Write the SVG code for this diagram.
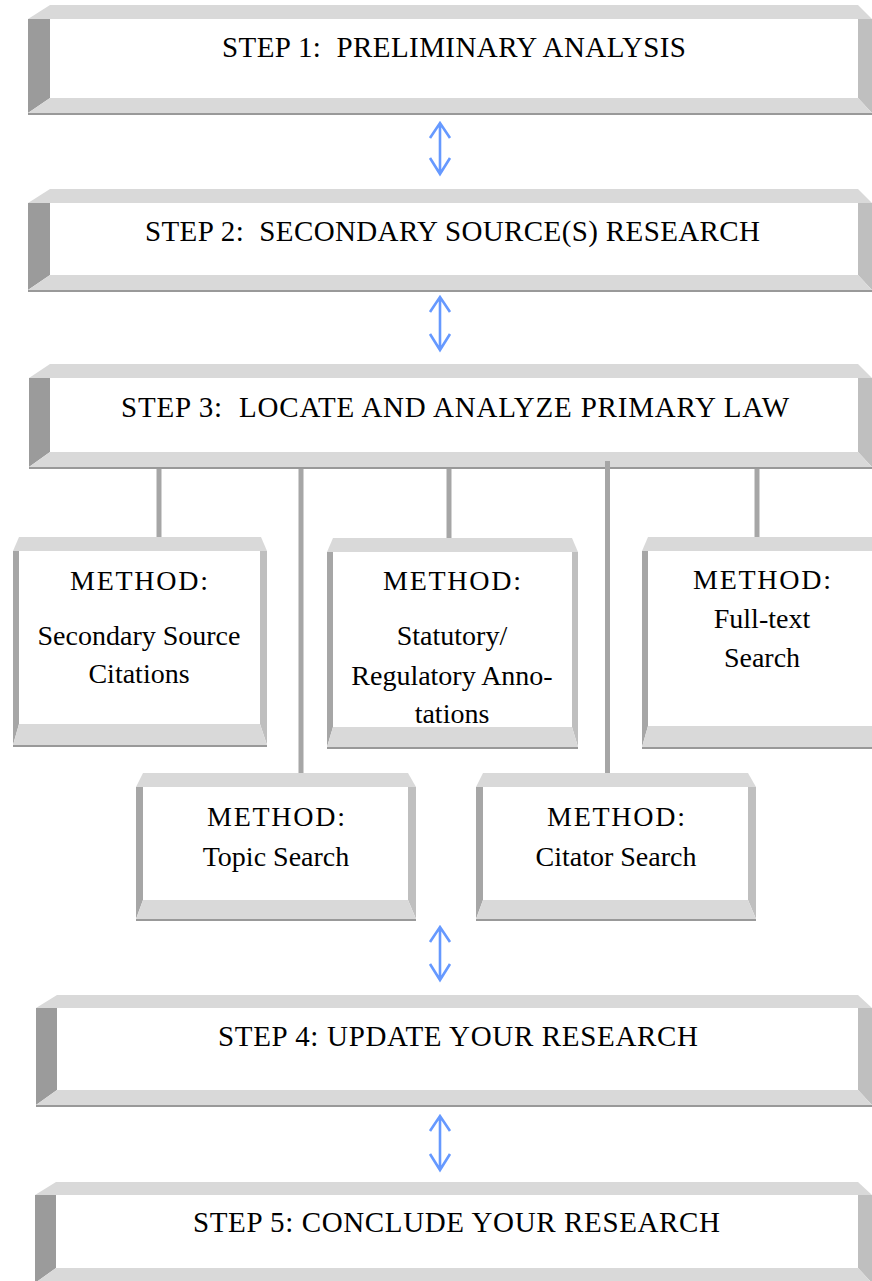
<svg xmlns="http://www.w3.org/2000/svg" width="872" height="1281" viewBox="0 0 872 1281">
<style>
.tp{fill:#d9d9d9}
.lf{fill:#9b9b9b}
.lm{fill:#a6a6a6}
.rt{fill:#bfbfbf}
.sh{fill:#999999}
.st{font-family:"Liberation Serif","Times New Roman",serif;font-size:29px;fill:#000;white-space:pre}
.mt{font-family:"Liberation Serif","Times New Roman",serif;font-size:28px;fill:#000;text-anchor:middle}
.mh{font-family:"Liberation Serif","Times New Roman",serif;font-size:28px;fill:#000}
.cn{stroke:#a6a6a6;stroke-width:5;fill:none}
.ar{stroke:#6699ff;stroke-width:2.6;fill:none;stroke-linecap:butt;stroke-linejoin:miter}
</style>
<rect width="872" height="1281" fill="#ffffff"/>

<g id="step1">
<polygon class="tp" points="50,5 858,5 872,19 28,19"/>
<polygon class="lf" points="28,19 50,19 50,98 28,113"/>
<polygon class="rt" points="858,19 872,19 872,113 858,98"/>
<polygon class="tp" points="50,98 858,98 872,113 28,113"/>
<rect class="sh" x="28" y="113" width="844" height="2"/>
<text class="st" x="222" y="57" textLength="464">STEP 1:  PRELIMINARY ANALYSIS</text>
</g>

<g id="step2">
<polygon class="tp" points="50,189 858,189 872,203 28,203"/>
<polygon class="lf" points="28,203 50,203 50,275 28,290"/>
<polygon class="rt" points="858,203 872,203 872,290 858,275"/>
<polygon class="tp" points="50,275 858,275 872,290 28,290"/>
<rect class="sh" x="28" y="290" width="844" height="2"/>
<text class="st" x="145" y="241" textLength="615">STEP 2:  SECONDARY SOURCE(S) RESEARCH</text>
</g>

<g id="step3">
<polygon class="tp" points="50,364 858,364 872,378 29,378"/>
<polygon class="lf" points="29,378 50,378 50,452 29,467"/>
<polygon class="rt" points="858,378 872,378 872,467 858,452"/>
<polygon class="tp" points="50,452 858,452 872,467 29,467"/>
<rect class="sh" x="29" y="467" width="843" height="2"/>
<text class="st" x="121" y="417" textLength="668">STEP 3:  LOCATE AND ANALYZE PRIMARY LAW</text>
</g>

<g id="method1">
<polygon class="tp" points="19,537 261,537 267,551 13,551"/>
<polygon class="lm" points="13,551 19,551 19,724 13,745"/>
<polygon class="rt" points="260,551 267,551 267,745 260,724"/>
<polygon class="tp" points="19,724 260,724 267,745 13,745"/>
<rect class="sh" x="13" y="745" width="254" height="2"/>
<text class="mh" x="70" y="590" textLength="138">METHOD:</text>
<text class="mt" x="139" y="645">Secondary Source</text>
<text class="mt" x="139" y="683">Citations</text>
</g>

<g id="method2">
<polygon class="tp" points="333,538 572,538 578,552 327,552"/>
<polygon class="lm" points="327,552 333,552 333,727 327,747"/>
<polygon class="rt" points="572,552 578,552 578,747 572,727"/>
<polygon class="tp" points="333,727 572,727 578,747 327,747"/>
<rect class="sh" x="327" y="747" width="251" height="2"/>
<text class="mh" x="383" y="590" textLength="138">METHOD:</text>
<text class="mt" x="452" y="645">Statutory/</text>
<text class="mt" x="452" y="685">Regulatory Anno-</text>
<text class="mt" x="452" y="723">tations</text>
</g>

<g id="method3">
<polygon class="tp" points="648,537 874,537 880,551 642,551"/>
<polygon class="lm" points="642,551 648,551 648,726 642,747"/>
<polygon class="tp" points="648,726 874,726 880,747 642,747"/>
<rect class="sh" x="642" y="747" width="238" height="2"/>
<text class="mh" x="693" y="589" textLength="138">METHOD:</text>
<text class="mt" x="762" y="628">Full-text</text>
<text class="mt" x="762" y="667">Search</text>
</g>

<g id="method4">
<polygon class="tp" points="143,773 408,773 416,787 136,787"/>
<polygon class="lm" points="136,787 143,787 143,900 136,919"/>
<polygon class="rt" points="408,787 416,787 416,919 408,900"/>
<polygon class="tp" points="143,900 408,900 416,919 136,919"/>
<rect class="sh" x="136" y="919" width="280" height="2"/>
<text class="mh" x="207" y="826" textLength="138">METHOD:</text>
<text class="mt" x="276" y="866">Topic Search</text>
</g>

<g id="method5">
<polygon class="tp" points="483,773 748,773 756,787 476,787"/>
<polygon class="lm" points="476,787 483,787 483,900 476,919"/>
<polygon class="rt" points="748,787 756,787 756,919 748,900"/>
<polygon class="tp" points="483,900 748,900 756,919 476,919"/>
<rect class="sh" x="476" y="919" width="280" height="2"/>
<text class="mh" x="547" y="826" textLength="138">METHOD:</text>
<text class="mt" x="616" y="866">Citator Search</text>
</g>

<g id="step4">
<polygon class="tp" points="57,995 858,995 872,1008 36,1008"/>
<polygon class="lf" points="36,1008 57,1008 57,1090 36,1105"/>
<polygon class="rt" points="858,1008 872,1008 872,1105 858,1090"/>
<polygon class="tp" points="57,1090 858,1090 872,1105 36,1105"/>
<rect class="sh" x="36" y="1105" width="836" height="2"/>
<text class="st" x="218" y="1046" textLength="480">STEP 4: UPDATE YOUR RESEARCH</text>
</g>

<g id="step5">
<polygon class="tp" points="56,1182 858,1182 872,1195 35,1195"/>
<polygon class="lf" points="35,1195 56,1195 56,1268 35,1283"/>
<polygon class="rt" points="858,1195 872,1195 872,1283 858,1268"/>
<polygon class="tp" points="56,1268 858,1268 872,1283 35,1283"/>
<text class="st" x="193" y="1232" textLength="527">STEP 5: CONCLUDE YOUR RESEARCH</text>
</g>

<g id="connectors">
<line class="cn" x1="159" y1="469" x2="159" y2="537"/>
<line class="cn" x1="301" y1="469" x2="301" y2="773"/>
<line class="cn" x1="449" y1="469" x2="449" y2="538"/>
<line class="cn" x1="607.5" y1="461" x2="607.5" y2="773"/>
<line class="cn" x1="757" y1="469" x2="757" y2="537"/>

<path class="ar" d="M440,123 V174 M430,138 L440,123 L450,138 M430,158 L440,174 L450,158"/>
<path class="ar" d="M440,297 V350 M430,312 L440,297 L450,312 M430,334 L440,350 L450,334"/>
<path class="ar" d="M440,927 V980 M430,942 L440,927 L450,942 M430,964 L440,980 L450,964"/>
<path class="ar" d="M440,1116 V1170 M430,1131 L440,1116 L450,1131 M430,1154 L440,1170 L450,1154"/>
</g>
</svg>
